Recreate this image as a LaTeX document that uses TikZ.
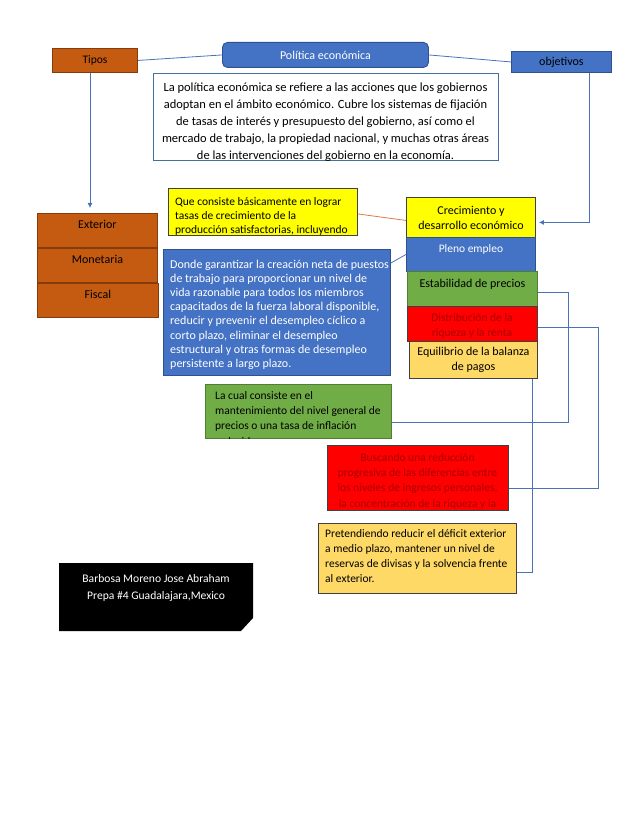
\documentclass[tikz,border=0pt]{standalone}
\usepackage{fontspec}
\setmainfont{Carlito}
\usepackage{tikz}
\usetikzlibrary{arrows.meta}
\definecolor{naranja}{HTML}{C55A11}
\definecolor{naranjaosc}{HTML}{843C0C}
\definecolor{azul}{HTML}{4472C4}
\definecolor{azulosc}{HTML}{2F528F}
\definecolor{verde}{HTML}{70AD47}
\definecolor{verdeosc}{HTML}{507E32}
\definecolor{amarillo}{HTML}{FFFF00}
\definecolor{rojo}{HTML}{FF0000}
\definecolor{rojotxt}{HTML}{A80000}
\definecolor{crema}{HTML}{FFD966}
\definecolor{gris}{HTML}{404040}
\definecolor{grisazul}{HTML}{41719C}
\definecolor{linea}{HTML}{4A72B8}
\definecolor{lineanar}{HTML}{E07B45}
\tikzstyle{conector} = [draw=linea, line width=0.8pt]
\tikzstyle{flecha} = [conector, -{Latex[length=5pt,width=5pt]}]

\begin{document}
\begin{tikzpicture}[x=1pt, y=-1pt,
  box/.style = {draw, line width=0.9pt, inner sep=0pt, anchor=north west,
        align=center, font=\fontsize{11.5}{15}\selectfont},
  tipo/.style = {box, fill=naranja, draw=naranjaosc, minimum width=120pt,
        minimum height=34pt, text height=7pt, text depth=10pt, font=\fontsize{12}{15}\selectfont},
  meta/.style = {box, minimum width=129pt},
  alto/.style = {text height=7pt, text depth=10pt},
  rotulo/.style 2 args = {inner sep=0pt, anchor=north west, align=left,
        font=\fontsize{#1}{#2}\selectfont}
]
\useasboundingbox (0,0) rectangle (638,826);

% encabezado
\node[box, fill=naranja, draw=naranjaosc, minimum width=85pt, minimum height=24pt] (tipos) at (52,48) {Tipos};
\node[box, rounded corners=5pt, fill=azul, draw=azulosc, text=white, minimum width=206pt,
  minimum height=25pt, font=\fontsize{12}{15}\selectfont] (politica) at (222,42) {Política económica};
\node[box, fill=azul, draw=azulosc, minimum width=100pt, minimum height=21pt,
  font=\fontsize{12}{15}\selectfont] (objetivos) at (511,51) {objetivos};
\node[box, draw=grisazul, fill=white, minimum width=345pt, minimum height=87pt] (definicion) at (153,73) {};
\begin{scope}
  \clip (definicion.north west) rectangle (definicion.south east);
  \node[rotulo={12.5}{17}, anchor=north, align=center] (definiciontxt) at (325.5,82.5)
    {La política económica se refiere a las acciones que los gobiernos\\
     adoptan en el ámbito económico. Cubre los sistemas de fijación\\
     de tasas de interés y presupuesto del gobierno, así como el\\
     mercado de trabajo, la propiedad nacional, y muchas otras áreas\\
     de las intervenciones del gobierno en la economía.};
\end{scope}

% tipos
\node[tipo] (exterior) at (37,213) {Exterior};
\node[tipo] (monetaria) at (37,248) {Monetaria};
\node[tipo, minimum width=121pt] (fiscal) at (37,283) {Fiscal};

% objetivos
\node[meta, fill=amarillo, draw=gris, minimum height=40pt, font=\fontsize{12}{15}\selectfont] (crecimiento) at (406,197) {Crecimiento y\\desarrollo económico};
\node[meta, alto, fill=azul, draw=azulosc, text=white, minimum height=34pt] (pleno) at (406,237) {Pleno empleo};
\node[meta, alto, fill=verde, draw=verdeosc, minimum width=130pt, minimum height=35pt,
  font=\fontsize{12}{15}\selectfont] (estabilidad) at (407,271) {Estabilidad de precios};
\node[meta, fill=rojo, draw=gris, minimum width=130pt, minimum height=35pt] (distribucion) at (407,306) {};
\begin{scope}
  \clip (distribucion.north west) rectangle (distribucion.south east);
  \node[rotulo={11.5}{15}, anchor=north, align=center, text=rojotxt] (distribuciontxt) at (472,313)
    {Distribución de la\\riqueza y la renta};
\end{scope}
\node[meta, fill=crema, draw=gris, minimum width=128pt, minimum height=37pt,
  font=\fontsize{12}{15}\selectfont] (equilibrio) at (409,341) {Equilibrio de la balanza\\de pagos};

% explicaciones
\node[box, fill=amarillo, draw=gris, minimum width=189pt, minimum height=47pt] (crecetxt) at (168,188) {};
\begin{scope}
  \clip (crecetxt.north west) rectangle (crecetxt.south east);
  \node[rotulo={11.5}{14.2}] (crecelbl) at (175,197)
    {Que consiste básicamente en lograr\\tasas de crecimiento de la\\producción satisfactorias, incluyendo};
\end{scope}
\node[box, fill=azul, draw=azulosc, minimum width=227pt, minimum height=126pt] (plenotxt) at (163,249) {};
\node[rotulo={12}{14.2}, text=white] (plenolbl) at (170,259.5)
  {Donde garantizar la creación neta de puestos\\
   de trabajo para proporcionar un nivel de\\
   vida razonable para todos los miembros\\
   capacitados de la fuerza laboral disponible,\\
   reducir y prevenir el desempleo cíclico a\\
   corto plazo, eliminar el desempleo\\
   estructural y otras formas de desempleo\\
   persistente a largo plazo.};
\node[box, fill=verde, draw=verdeosc, minimum width=186pt, minimum height=54pt] (estabtxt) at (205,384) {};
\begin{scope}
  \clip (estabtxt.north west) rectangle (estabtxt.south east);
  \node[rotulo={11.5}{15.4}] (establbl) at (215,391)
    {La cual consiste en el\\mantenimiento del nivel general de\\precios o una tasa de inflación\\reducida.};
\end{scope}
\node[box, fill=rojo, draw=gris, minimum width=181pt, minimum height=65pt] (distribtxt) at (327,445) {};
\begin{scope}
  \clip (distribtxt.north west) rectangle (distribtxt.south east);
  \node[rotulo={11.5}{15.3}, anchor=north, align=center, text=rojotxt] (distriblbl) at (417.5,453)
    {Buscando una reducción\\progresiva de las diferencias entre\\los niveles de ingresos personales,\\la concentración de la riqueza y la};
\end{scope}
\node[box, fill=crema, draw=gris, minimum width=198pt, minimum height=70pt] (equilibtxt) at (318,523) {};
\node[rotulo={11.5}{15}] (equiliblbl) at (325,529)
  {Pretendiendo reducir el déficit exterior\\a medio plazo, mantener un nivel de\\reservas de divisas y la solvencia frente\\al exterior.};

% autor
\fill[black] (59,563) -- (253,563) -- (253,618) -- (241,631) -- (59,631) -- cycle;
\node[anchor=north, align=center, inner sep=0pt, text=white, font=\fontsize{11.6}{17}\selectfont] (autor) at (156,574)
  {Barbosa Moreno Jose Abraham\\Prepa \#4 Guadalajara,Mexico};

% conectores
\draw[conector] (tipos.east) -- (politica.west);
\draw[conector] (politica.east) -- (objetivos.west);
\draw[flecha, shorten >=5pt] (tipos.south -| 90,0) -- (exterior.north -| 90,0);
\draw[flecha] (objetivos.south -| 589,0) |- ([xshift=3pt,yshift=-5pt]crecimiento.east);
\draw[draw=lineanar, line width=0.8pt] ([yshift=-2pt]crecetxt.east) -- ([yshift=-3pt]crecimiento.west);
\draw[conector] ([yshift=-14pt]plenotxt.north east) -- (pleno.west);
\draw[conector] ([yshift=-3pt]estabilidad.east) -- ++(30,0) |- ([yshift=-11pt]estabtxt.east);
\draw[conector] ([yshift=-3pt]distribucion.east) -- ++(60,0) |- ([yshift=-10pt]distribtxt.east);
\draw[conector] ([xshift=-6pt]equilibrio.south east) |- ([yshift=-14pt]equilibtxt.east);
\end{tikzpicture}
\end{document}
